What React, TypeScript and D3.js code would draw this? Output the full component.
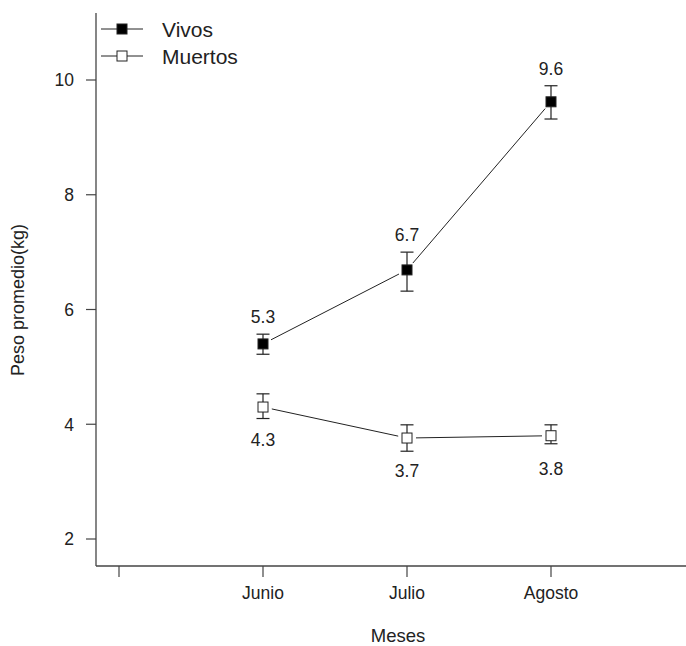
import React from "react";
import * as d3 from "d3";

const months = ["Junio", "Julio", "Agosto"];
const vivosMean = [5.4, 6.69, 9.62];
const vivosLow = [5.22, 6.32, 9.32];
const vivosHigh = [5.57, 7.0, 9.9];
const vivosLabels = ["5.3", "6.7", "9.6"];
const muertosMean = [4.3, 3.76, 3.8];
const muertosLow = [4.1, 3.53, 3.66];
const muertosHigh = [4.53, 3.99, 3.99];
const muertosLabels = ["4.3", "3.7", "3.8"];
const yTicks = [2, 4, 6, 8, 10];
const xTickPositions = [0, 1, 2, 3];

const W = 686;
const H = 646;
const font = "Arial, 'Liberation Sans', sans-serif";

export default function App() {
  const x = d3.scaleLinear().domain([0, 3]).range([119, 551]);
  const y = d3.scaleLinear().domain([2, 10]).range([539, 80]);
  const axisX = 96;
  const axisY = 566;
  const yTop = 13;

  const gapLine = (xs: number[], ys: number[], gap: number) => {
    const segs: { x1: number; y1: number; x2: number; y2: number }[] = [];
    for (let i = 0; i < xs.length - 1; i++) {
      const x1 = x(xs[i]), y1 = y(ys[i]), x2 = x(xs[i + 1]), y2 = y(ys[i + 1]);
      const len = Math.hypot(x2 - x1, y2 - y1);
      const ux = (x2 - x1) / len, uy = (y2 - y1) / len;
      segs.push({ x1: x1 + ux * gap, y1: y1 + uy * gap, x2: x2 - ux * gap, y2: y2 - uy * gap });
    }
    return segs;
  };

  const positions = months.map((_, i) => i + 1);
  const vSegs = gapLine(positions, vivosMean, 9);
  const mSegs = gapLine(positions, muertosMean, 9);
  const ms = 10;
  const cap = 6.5;

  const series = [
    { mean: vivosMean, low: vivosLow, high: vivosHigh, filled: true },
    { mean: muertosMean, low: muertosLow, high: muertosHigh, filled: false },
  ];

  return (
    <svg width={W} height={H} style={{ position: "absolute", left: 0, top: 0, background: "#fff" }}>
      <rect x={0} y={0} width={W} height={H} fill="#fff" />
      {/* axes */}
      <line x1={axisX} y1={yTop} x2={axisX} y2={axisY} stroke="#444" strokeWidth={1.3} />
      <line x1={axisX} y1={axisY} x2={W} y2={axisY} stroke="#444" strokeWidth={1.3} />
      {yTicks.map((t) => (
        <g key={t}>
          <line x1={axisX - 10} x2={axisX} y1={y(t)} y2={y(t)} stroke="#444" strokeWidth={1.2} />
          <text x={axisX - 22} y={y(t)} dy="0.36em" textAnchor="end" fontFamily={font} fontSize={17.5} fill="#222">
            {t}
          </text>
        </g>
      ))}
      {xTickPositions.map((p) => (
        <line key={p} x1={x(p)} x2={x(p)} y1={axisY} y2={axisY + 11} stroke="#444" strokeWidth={1.2} />
      ))}
      {months.map((m, i) => (
        <text key={m} x={x(i + 1)} y={599} textAnchor="middle" fontFamily={font} fontSize={17.5} fill="#222">
          {m}
        </text>
      ))}
      <text x={398} y={642} textAnchor="middle" fontFamily={font} fontSize={18.5} fill="#222">
        Meses
      </text>
      <text
        transform={`translate(24,300) rotate(-90)`}
        textAnchor="middle"
        fontFamily={font}
        fontSize={18}
        fill="#222"
      >
        Peso promedio(kg)
      </text>

      {/* lines */}
      {[...vSegs, ...mSegs].map((s, i) => (
        <line key={i} x1={s.x1} y1={s.y1} x2={s.x2} y2={s.y2} stroke="#222" strokeWidth={1} />
      ))}

      {/* error bars + markers */}
      {series.map((s, si) =>
        s.mean.map((v, i) => {
          const cx = x(i + 1);
          return (
            <g key={`${si}-${i}`}>
              <line x1={cx} x2={cx} y1={y(s.high[i])} y2={y(s.low[i])} stroke="#222" strokeWidth={1.2} />
              <line x1={cx - cap} x2={cx + cap} y1={y(s.high[i])} y2={y(s.high[i])} stroke="#222" strokeWidth={1.2} />
              <line x1={cx - cap} x2={cx + cap} y1={y(s.low[i])} y2={y(s.low[i])} stroke="#222" strokeWidth={1.2} />
              <rect
                x={cx - ms / 2}
                y={y(v) - ms / 2}
                width={ms}
                height={ms}
                fill={s.filled ? "#000" : "#fff"}
                stroke="#222"
                strokeWidth={1}
              />
            </g>
          );
        })
      )}

      {/* value labels */}
      {vivosLabels.map((l, i) => (
        <text key={l} x={x(i + 1)} y={y(vivosHigh[i]) - 11} textAnchor="middle" fontFamily={font} fontSize={17.5} fill="#222">
          {l}
        </text>
      ))}
      {muertosLabels.map((l, i) => (
        <text key={l} x={x(i + 1)} y={y(muertosMean[i]) + 39} textAnchor="middle" fontFamily={font} fontSize={17.5} fill="#222">
          {l}
        </text>
      ))}

      {/* legend */}
      <line x1={101} x2={143} y1={29} y2={29} stroke="#222" strokeWidth={1} />
      <rect x={122 - ms / 2} y={29 - ms / 2} width={ms} height={ms} fill="#000" stroke="#222" />
      <text x={162} y={29} dy="0.36em" fontFamily={font} fontSize={21} fill="#222">
        Vivos
      </text>
      <line x1={101} x2={143} y1={56} y2={56} stroke="#222" strokeWidth={1} />
      <rect x={122 - ms / 2} y={56 - ms / 2} width={ms} height={ms} fill="#fff" stroke="#222" />
      <text x={162} y={56} dy="0.36em" fontFamily={font} fontSize={21} fill="#222">
        Muertos
      </text>
    </svg>
  );
}
